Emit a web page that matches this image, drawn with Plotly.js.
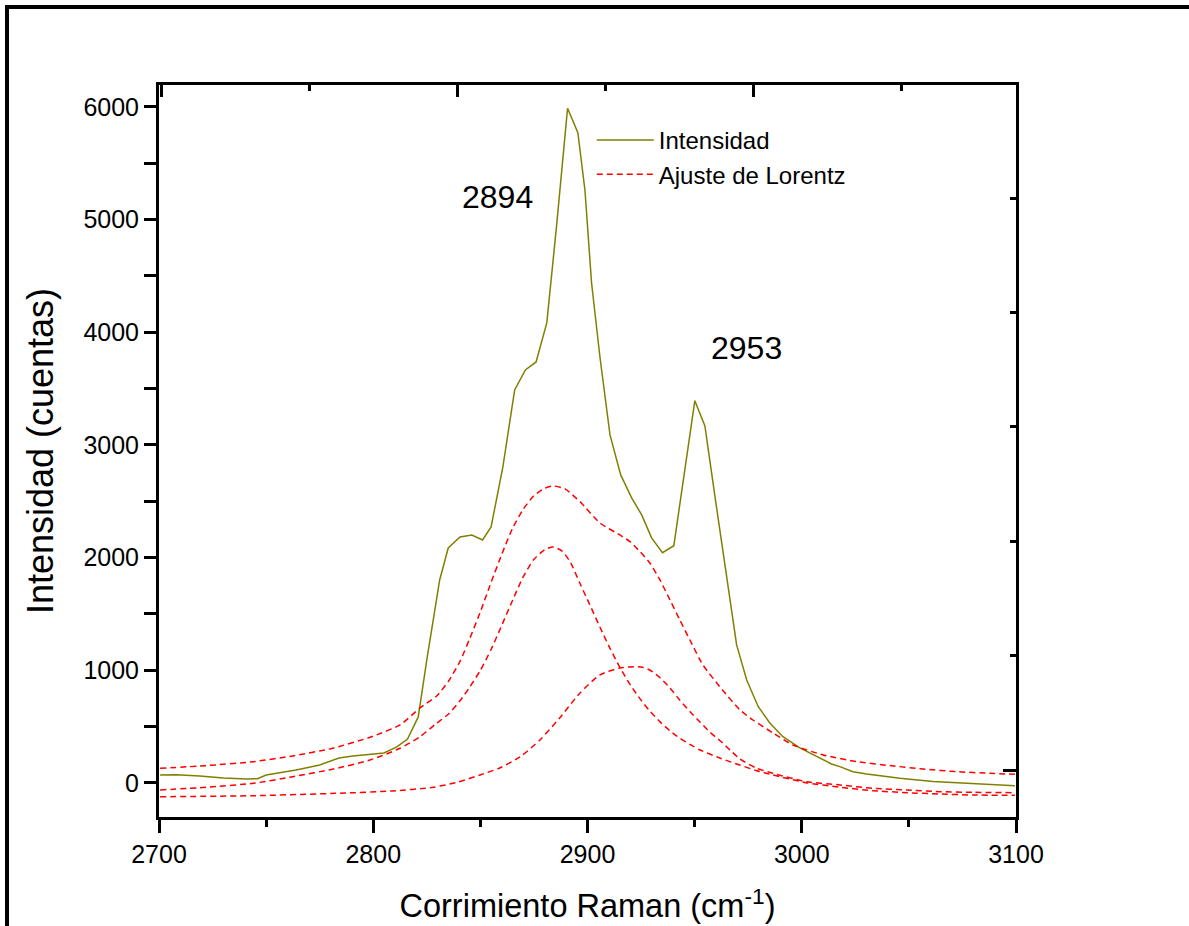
<!DOCTYPE html>
<html>
<head>
<meta charset="utf-8">
<script src="https://cdn.plot.ly/plotly-3.0.1.min.js"></script>
<style>
html,body{margin:0;padding:0;background:#fff;}
#wrap{position:relative;width:1189px;height:926px;overflow:hidden;}
#chart{position:absolute;left:0;top:0;width:1189px;height:926px;}
#frame{position:absolute;left:5px;top:5px;width:1400px;height:1200px;border-left:4px solid #000;border-top:4px solid #000;pointer-events:none;}
</style>
</head>
<body>
<div id="wrap"><div id="chart"></div><div id="frame"></div></div>
<script>
// Intensidad (measured spectrum)
const intensX = [2700.5,2708,2719,2730,2741,2746,2750,2764,2775,2784,2790.5,2797,2805,2811,2816,2821,2825,2831,2835,2840.5,2846,2851,2855,2860.5,2866,2871,2876,2881,2885.7,2890.7,2895.5,2898.8,2901.9,2905.8,2910.5,2915.5,2920.6,2925.3,2929.9,2935,2940.3,2950.1,2954.8,2959.5,2964.9,2969.6,2974.3,2979.7,2985.1,2991.2,2999.1,3006.9,3013.9,3017.8,3023.9,3030.3,3045.8,3061.2,3079.9,3099.5];
const intensY = [71,73,62,44,35,38,71,115,160,222,240,251,266,320,390,586,1092,1802,2086,2183,2201,2157,2272,2805,3488,3666,3737,4083,4971,5989,5772,5263,4438,3781,3089,2734,2530,2379,2175,2044,2106,3393,3169,2541,1831,1225,914,677,533,411,311,233,169,145,100,80,42,12,-3,-24];

// Ajuste de Lorentz: cumulative fit
const sumX = [2700.5,2722,2744,2762.5,2781,2798.5,2812.5,2821.8,2829.6,2835,2840.5,2845,2850,2855,2860,2865,2870,2875,2880,2884,2889.5,2896.5,2905.8,2915.1,2919.8,2924.5,2929.1,2933.8,2938.5,2943.1,2947.8,2953.9,2962.8,2971.2,2977.2,2986.6,2995.9,3009.9,3025.8,3041.2,3056.6,3072.4,3087.8,3099.5];
const sumY = [130,154,189,240,308,406,515,666,772,900,1080,1280,1520,1780,2030,2260,2430,2550,2615,2636,2610,2497,2308,2201,2142,2053,1953,1802,1624,1447,1269,1047,830,648,559,444,337,249,189,154,124,100,86,77];

// Ajuste de Lorentz: peak 1
const peak1X = [2700.5,2722,2744,2762.5,2781,2798.5,2812.5,2821.8,2829.6,2835,2840.5,2845,2850,2855,2860,2865,2870,2875,2880,2884,2888,2892,2896.5,2901,2906,2910.5,2915,2920,2925,2929,2934,2938.5,2943,2948,2952.5,2962,2971,2979,2986.5,3002,3018,3033,3049,3064.5,3080,3099.5];
const peak1Y = [-62,-38,-3,56,122,204,308,411,530,610,730,850,1000,1185,1400,1620,1830,1985,2070,2095,2060,1960,1770,1585,1375,1195,1030,870,735,640,540,463,398,340,293,220,160,109,71,3,-38,-68,-86,-98,-107,-109];

// Ajuste de Lorentz: peak 2
const peak2X = [2700.5,2744,2784.5,2809,2828,2840,2849.8,2859,2868.5,2877.8,2887,2896.5,2905.8,2915,2920,2925,2929,2934,2938.5,2943,2948,2952.5,2957,2962,2966.5,2971,2979,2986.5,3002,3018,3033,3049,3064.5,3080,3099.5];
const peak2Y = [-122,-113,-91,-71,-38,10,71,133,231,382,577,799,959,1021,1030,1030,1003,932,843,737,630,541,453,373,293,215,130,86,12,-18,-47,-62,-77,-83,-86];

// Axis settings / labels
const xTitle = 'Corrimiento Raman (cm<sup>-1</sup>)';
const yTitle = 'Intensidad (cuentas)';
const labelNames = ['Intensidad', 'Ajuste de Lorentz'];
const peakLabels = ['2894', '2953'];
const peakLabelX = [2858, 2974];
const peakLabelY = [5200, 3860];

const FONT = 'Liberation Sans, Arial, sans-serif';
const red = '#ff0000';
const olive = '#808000';

const traces = [
  {x: intensX, y: intensY, type: 'scatter', mode: 'lines', name: labelNames[0],
   line: {color: olive, width: 1.5}, hoverinfo: 'skip'},
  {x: sumX, y: sumY, type: 'scatter', mode: 'lines', name: labelNames[1], legendgroup: 'fit',
   line: {color: red, width: 1.5, dash: '6px,4px', shape: 'spline', smoothing: 0.6}},
  {x: peak1X, y: peak1Y, type: 'scatter', mode: 'lines', name: labelNames[1], legendgroup: 'fit', showlegend: false,
   line: {color: red, width: 1.5, dash: '6px,4px', shape: 'spline', smoothing: 0.6}},
  {x: peak2X, y: peak2Y, type: 'scatter', mode: 'lines', name: labelNames[1], legendgroup: 'fit', showlegend: false,
   line: {color: red, width: 1.5, dash: '6px,4px', shape: 'spline', smoothing: 0.6}},
  {x: [null], y: [null], xaxis: 'x2', yaxis: 'y2', type: 'scatter', mode: 'lines', showlegend: false, hoverinfo: 'skip'}
];

const layout = {
  width: 1189, height: 926,
  margin: {l: 159, r: 173, t: 85, b: 109, pad: 0},
  paper_bgcolor: '#fff', plot_bgcolor: '#fff',
  font: {family: FONT, color: '#000', size: 24},
  showlegend: true,
  legend: {x: 0.505, y: 0.955, xanchor: 'left', yanchor: 'top', bgcolor: 'rgba(0,0,0,0)',
           font: {family: FONT, size: 24, color: '#000'}, itemwidth: 57, tracegroupgap: 0},
  xaxis: {range: [2700, 3100], showgrid: false, zeroline: false, showline: true, linewidth: 3, linecolor: '#000',
          ticks: 'outside', ticklen: 13, tickwidth: 3, tickcolor: '#000', dtick: 100, tick0: 2700,
          minor: {dtick: 50, ticks: 'outside', ticklen: 7, tickwidth: 3, tickcolor: '#000', showgrid: false},
          tickfont: {family: FONT, size: 25}, title: {text: xTitle, font: {family: FONT, size: 32.5}, standoff: 28}},
  yaxis: {range: [-302, 6195], showgrid: false, zeroline: false, showline: true, linewidth: 3, linecolor: '#000',
          ticks: 'outside', ticklen: 12, tickwidth: 3, tickcolor: '#000', dtick: 1000, tick0: 0,
          minor: {dtick: 500, ticks: 'outside', ticklen: 12, tickwidth: 3, tickcolor: '#000', showgrid: false},
          tickfont: {family: FONT, size: 25}, title: {text: yTitle, font: {family: FONT, size: 36}, standoff: 19}},
  xaxis2: {overlaying: 'x', side: 'top', anchor: 'y2', range: [0, 857], showgrid: false, zeroline: false,
           showline: true, linewidth: 3, linecolor: '#000', showticklabels: false,
           ticks: 'inside', ticklen: 12, tickwidth: 3, tickcolor: '#000', tick0: 298, dtick: 296,
           minor: {tick0: 150, dtick: 148, ticks: 'inside', ticklen: 6, tickwidth: 3, tickcolor: '#000', showgrid: false}},
  yaxis2: {overlaying: 'y', side: 'right', anchor: 'x2', range: [0, 732], showgrid: false, zeroline: false,
           showline: true, linewidth: 3, linecolor: '#000', showticklabels: false,
           ticks: 'inside', ticklen: 13, tickwidth: 3, tickcolor: '#000', tick0: 47, dtick: 10000,
           minor: {tick0: 47, dtick: 114.4, ticks: 'inside', ticklen: 6, tickwidth: 3, tickcolor: '#000', showgrid: false}},
  annotations: peakLabels.map((t, i) => ({x: peakLabelX[i], y: peakLabelY[i], xref: 'x', yref: 'y', text: t,
      showarrow: false, font: {family: FONT, size: 32, color: '#000'}}))
};

Plotly.newPlot('chart', traces, layout, {displayModeBar: false, staticPlot: true});
</script>
</body>
</html>
